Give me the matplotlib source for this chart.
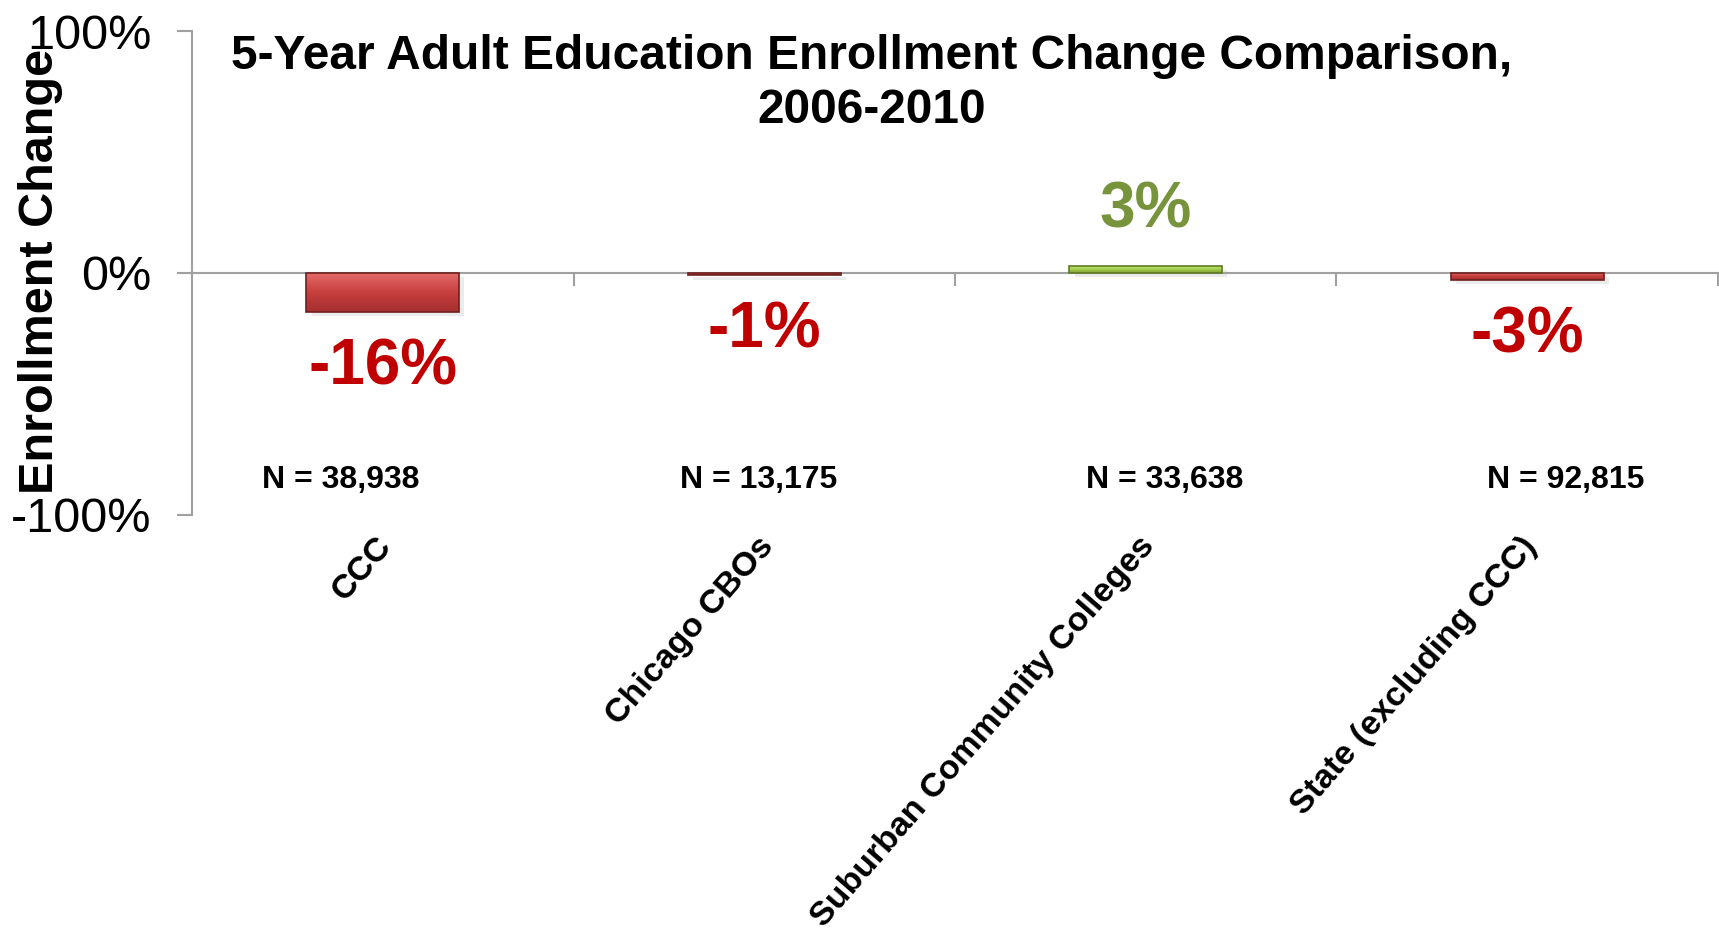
import matplotlib.pyplot as plt
import matplotlib.patheffects as pe
from matplotlib.colors import LinearSegmentedColormap
from matplotlib.transforms import blended_transform_factory
import numpy as np

plt.rcParams['font.family'] = ['Liberation Sans', 'DejaVu Sans']

groups = ['CCC', 'Chicago CBOs', 'Suburban Community Colleges', 'State (excluding CCC)']
change = [-16, -1, 3, -3]
n_labels = ['N = 38,938', 'N = 13,175', 'N = 33,638', 'N = 92,815']
n_shift = [-0.11, -0.015, 0.05, 0.10]

fig = plt.figure(figsize=(17.19, 9.41), dpi=100)
ax = fig.add_axes([0.1117, 0.453, 0.8877, 0.514])

x = np.arange(len(groups))
red_cm = LinearSegmentedColormap.from_list('red', ['#a52f2f', '#c63f3e', '#e36a68'])
green_cm = LinearSegmentedColormap.from_list('green', ['#7d9e36', '#a6d04e', '#cdea84'])
edge = ['#6e2020' if v < 0 else '#5f7a25' for v in change]
label_col = ['#c00000' if v < 0 else '#77933c' for v in change]

bars = ax.bar(x, change, width=0.4, color='none', edgecolor=edge, linewidth=1.2, zorder=4)
grad = np.linspace(0, 1, 64).reshape(-1, 1)
for b, v in zip(bars, change):
    x0, w = b.get_x(), b.get_width()
    y0, y1 = sorted([b.get_y(), b.get_y() + b.get_height()])
    # soft drop shadow under each bar
    ax.add_patch(plt.Rectangle((x0 + 0.01, y0 - 1.2), w, y1 - y0, color='black', alpha=0.13,
                               lw=0, zorder=2,
                               path_effects=[pe.SimplePatchShadow(offset=(1, -1), alpha=0.08)]))
    im = ax.imshow(grad, cmap=red_cm if v < 0 else green_cm, origin='lower', aspect='auto',
                   extent=(x0, x0 + w, y0, y1), zorder=3)
    im.set_clip_path(b)

for xi, v, c in zip(x, change, label_col):
    off = 40 if v > 0 else -40
    ax.annotate(f'{v}%', (xi, v), xytext=(0, off), textcoords='offset points',
                ha='center', va='center', fontsize=46, fontweight='bold', color=c)

for xi, s, t in zip(x, n_shift, n_labels):
    ax.text(xi + s, -85.5, t, ha='center', va='center', fontsize=23, fontweight='bold')

ax.set_xlim(-0.5, 3.5)
ax.set_ylim(-100, 100)
ax.set_yticks([-100, 0, 100])
ax.set_yticklabels(['-100%', '0%', '100%'], fontsize=35)

ax.spines['top'].set_visible(False)
ax.spines['right'].set_visible(False)
ax.spines['bottom'].set_position(('data', 0))
for s in ['left', 'bottom']:
    ax.spines[s].set_color('#a0a0a0')
    ax.spines[s].set_linewidth(1.5)
ax.set_xticks([0.5, 1.5, 2.5, 3.5])
ax.set_xticklabels([])
ax.tick_params(axis='x', direction='out', length=9, color='#a0a0a0', width=1.5)
ax.tick_params(axis='y', direction='out', length=11, color='#a0a0a0', width=1.5, pad=18)

trans = blended_transform_factory(ax.transData, ax.transAxes)
for xi, g in zip(x, groups):
    ax.text(xi + 0.01, -0.055, g, transform=trans, rotation=49, rotation_mode='anchor',
            ha='right', va='center', fontsize=24.5, fontweight='bold')

fig.text(0.0236, 0.712, 'Enrollment Change', rotation=90, ha='center', va='center',
         fontsize=35, fontweight='bold')
fig.text(0.507, 0.9635, '5-Year Adult Education Enrollment Change Comparison,\n2006-2010',
         ha='center', va='top', fontsize=34.5, fontweight='bold', linespacing=1.25)

fig.savefig('out.png', dpi=100)
